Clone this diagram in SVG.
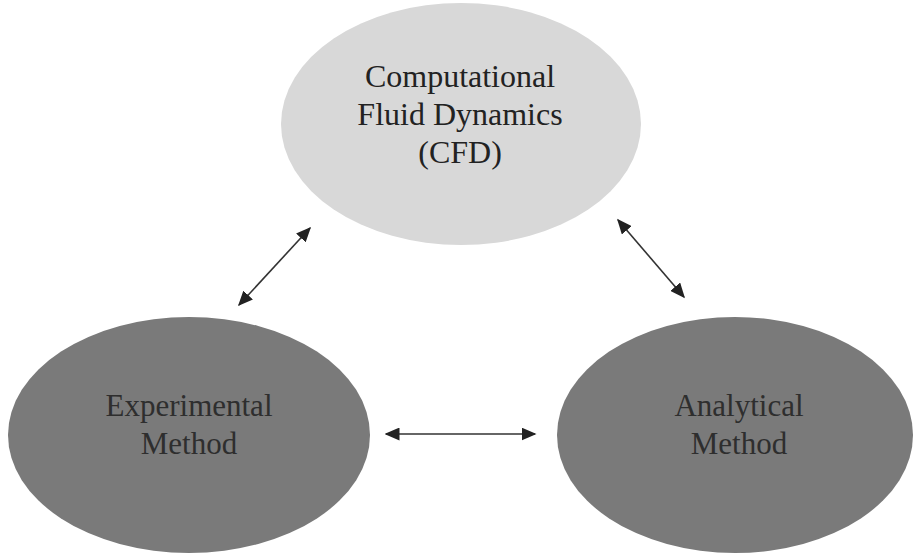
<svg xmlns="http://www.w3.org/2000/svg" width="913" height="554" viewBox="0 0 913 554">
  <defs>
    <marker id="ah" viewBox="0 0 10 10" refX="9" refY="5" markerWidth="15" markerHeight="13" markerUnits="userSpaceOnUse" orient="auto-start-reverse" preserveAspectRatio="none">
      <path d="M0,0 L10,5 L0,10 Z" fill="#222"/>
    </marker>
  </defs>
  <style>
    .lbl { font-family: "Liberation Serif", "Times New Roman", serif; text-anchor: middle; }
    .top { font-size: 32px; fill: #222; }
    .bot { font-size: 31px; fill: #2e2e2e; }
    .conn { stroke: #333; stroke-width: 1.6; fill: none; }
  </style>
  <rect width="913" height="554" fill="#ffffff"/>
  <g id="cfd">
    <ellipse cx="461" cy="124" rx="180" ry="121" fill="#d8d8d8"/>
    <text class="lbl top" x="460" y="87">Computational</text>
    <text class="lbl top" x="460" y="125">Fluid Dynamics</text>
    <text class="lbl top" x="460" y="163">(CFD)</text>
  </g>
  <g id="experimental">
    <ellipse cx="189" cy="435" rx="181" ry="118" fill="#7a7a7a"/>
    <text class="lbl bot" x="189" y="416">Experimental</text>
    <text class="lbl bot" x="189" y="454">Method</text>
  </g>
  <g id="analytical">
    <ellipse cx="735" cy="435" rx="178" ry="118" fill="#7a7a7a"/>
    <text class="lbl bot" x="739" y="416">Analytical</text>
    <text class="lbl bot" x="739" y="454">Method</text>
  </g>
  <g id="connectors">
    <line class="conn" x1="239" y1="305" x2="310" y2="228" marker-start="url(#ah)" marker-end="url(#ah)"/>
    <line class="conn" x1="618" y1="220" x2="684" y2="297" marker-start="url(#ah)" marker-end="url(#ah)"/>
    <line class="conn" x1="386" y1="434" x2="535" y2="434" marker-start="url(#ah)" marker-end="url(#ah)"/>
  </g>
</svg>
